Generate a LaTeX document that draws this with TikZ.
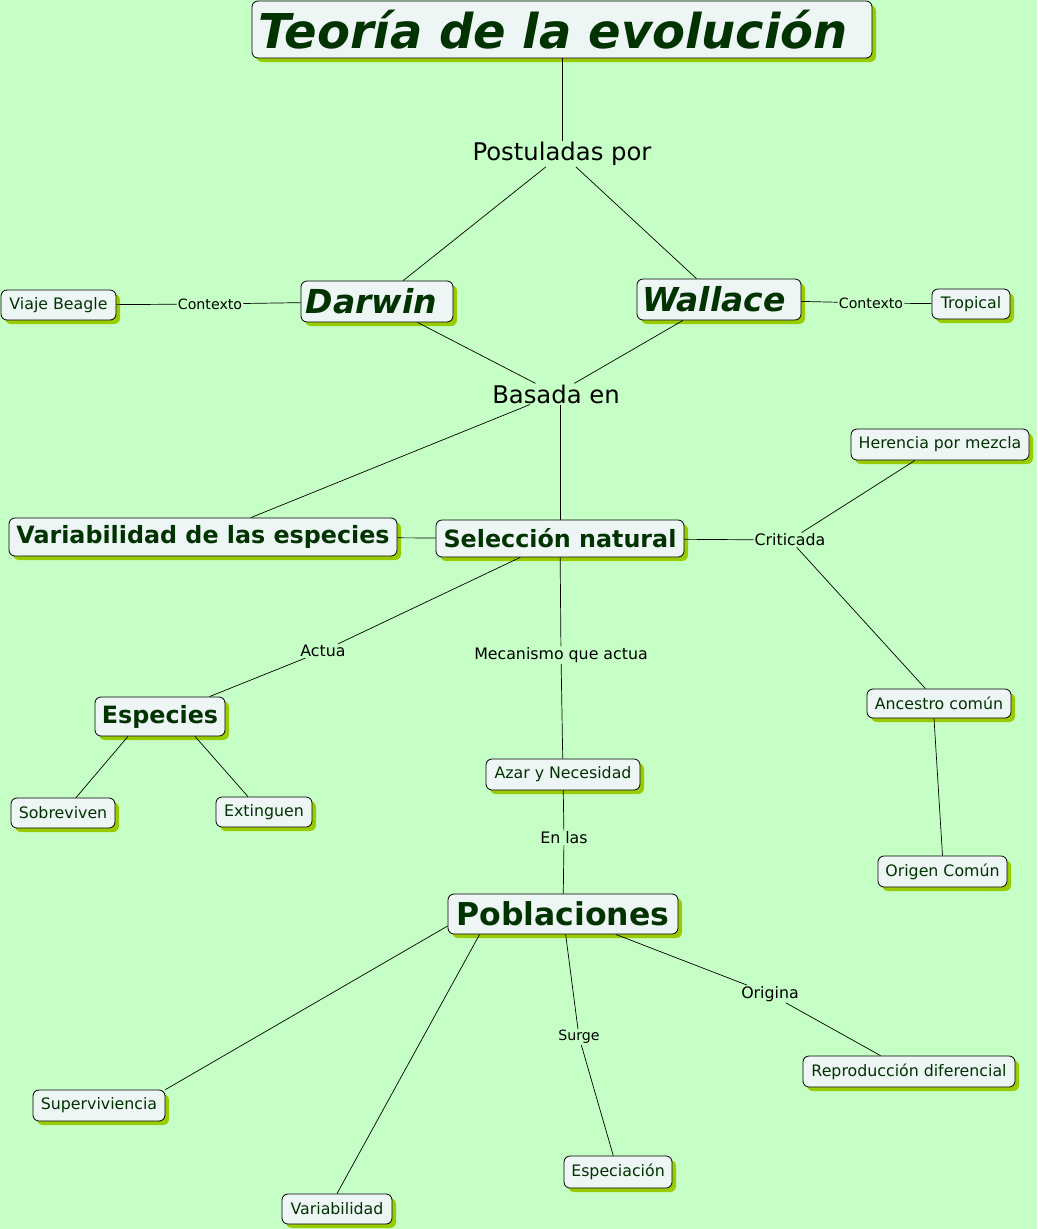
\documentclass[tikz,border=0pt]{standalone}
\usepackage{fontspec}
\setmainfont{DejaVu Sans}
\usetikzlibrary{shadows}
\definecolor{bg}{RGB}{198,255,198}
\definecolor{boxfill}{RGB}{238,245,245}
\definecolor{shade}{RGB}{153,204,0}
\definecolor{txt}{RGB}{0,51,0}
\newcommand{\fs}[1]{\fontsize{#1}{#1}\selectfont}
\begin{document}
\begin{tikzpicture}[x=1pt,y=-1pt,
  box/.style={draw=black, line width=0.8pt, rounded corners=6pt, fill=boxfill,
    text=txt, inner sep=0pt, align=center,
    general shadow={fill=shade, shadow xshift=4pt, shadow yshift=-4pt}},
  nbox/.style={box, font=\fs{15.8}},
  bbox/.style={box, font=\fs{23.8}\bfseries},
  lab/.style={inner sep=1pt, text=black, font=\fs{15.8}},
  slab/.style={inner sep=1pt, text=black, font=\fs{14.2}},
  blab/.style={inner sep=1pt, text=black, font=\fs{24.3}},
  conn/.style={draw=black, line width=0.7pt}]
\fill[bg] (0,0) rectangle (1037,1229);
\useasboundingbox (0,0) rectangle (1037,1229);

% boxes
\node[box, font=\fs{48}\bfseries\itshape, minimum width=620, minimum height=57] (title) at (562,29.5) {Teoría de la evolución\hspace*{18pt}};
\node[box, font=\fs{33}\bfseries\itshape, minimum width=152, minimum height=41] (darwin) at (377,301.5) {Darwin\hspace*{11pt}};
\node[box, font=\fs{33}\bfseries\itshape, minimum width=164, minimum height=41] (wallace) at (719,299.5) {Wallace\hspace*{10pt}};
\node[nbox, minimum width=115, minimum height=30] (viaje) at (58.5,305) {Viaje Beagle};
\node[nbox, minimum width=78, minimum height=30] (tropical) at (971,304) {Tropical};
\node[bbox, minimum width=388, minimum height=38] (variab) at (203,537) {Variabilidad de las especies};
\node[bbox, minimum width=248, minimum height=37] (sel) at (560,538.5) {Selección natural};
\node[nbox, minimum width=178, minimum height=31] (herencia) at (940,444.5) {Herencia por mezcla};
\node[nbox, minimum width=144, minimum height=29] (ancestro) at (939,703.5) {Ancestro común};
\node[nbox, minimum width=129, minimum height=31] (origen) at (942.5,871.5) {Origen Común};
\node[bbox, minimum width=130, minimum height=39] (especies) at (160,716.5) {Especies};
\node[nbox, minimum width=154, minimum height=31] (azar) at (563,774.5) {Azar y Necesidad};
\node[nbox, minimum width=104, minimum height=30] (sobrev) at (63,813) {Sobreviven};
\node[nbox, minimum width=96, minimum height=30] (extinguen) at (264,812) {Extinguen};
\node[box, font=\fs{31.5}\bfseries, minimum width=230, minimum height=40] (pob) at (563,914) {Poblaciones};
\node[nbox, minimum width=132, minimum height=31] (superv) at (99,1105.5) {Superviviencia};
\node[nbox, minimum width=110, minimum height=30] (varb) at (337,1209) {Variabilidad};
\node[nbox, minimum width=108, minimum height=32] (especiacion) at (618,1172) {Especiación};
\node[nbox, minimum width=212, minimum height=31] (repro) at (909,1071.5) {Reproducción diferencial};

% labels
\node[blab] (post) at (562,154) {Postuladas por};
\node[blab] (basada) at (556,394) {Basada en};
\node[slab] (ctx1) at (210,304) {Contexto};
\node[slab] (ctx2) at (871,303) {Contexto};
\node[lab] (crit) at (790,540) {Criticada};
\node[lab] (actua) at (323,651) {Actua};
\node[lab] (mec) at (561,655) {Mecanismo que actua};
\node[lab] (enlas) at (564,838) {En las};
\node[lab] (origina) at (770,994) {Origina};
\node[slab] (surge) at (579,1037) {Surge};

% connectors
\draw[conn] (title) -- (post);
\draw[conn] (post) -- (darwin);
\draw[conn] (post) -- (wallace);
\draw[conn] (viaje) -- (ctx1) -- (darwin);
\draw[conn] (wallace) -- (ctx2) -- (tropical);
\draw[conn] (darwin) -- (basada);
\draw[conn] (wallace) -- (basada);
\draw[conn] (basada) -- (variab);
\draw[conn] (basada.south -| sel.north) -- (sel.north);
\draw[conn] (variab) -- (sel);
\draw[conn] (sel) -- (crit);
\draw[conn] (crit) -- (herencia);
\draw[conn] (crit) -- (ancestro);
\draw[conn] (sel) -- (actua) -- (especies);
\draw[conn] (sel) -- (mec) -- (azar);
\draw[conn] ([xshift=-32pt]especies.south) -- ([xshift=13pt]sobrev.north);
\draw[conn] ([xshift=35pt]especies.south) -- ([xshift=-16pt]extinguen.north);
\draw[conn] ([xshift=-5pt]ancestro.south) -- (origen.north);
\draw[conn] (azar) -- (enlas) -- (pob);
\draw[conn] ([yshift=-12pt]pob.west) -- (superv.north east);
\draw[conn] ([xshift=32pt]pob.south west) -- (varb.north);
\draw[conn] (pob) -- (surge) -- (especiacion);
\draw[conn] (pob) -- (origina) -- (repro);
\end{tikzpicture}
\end{document}
